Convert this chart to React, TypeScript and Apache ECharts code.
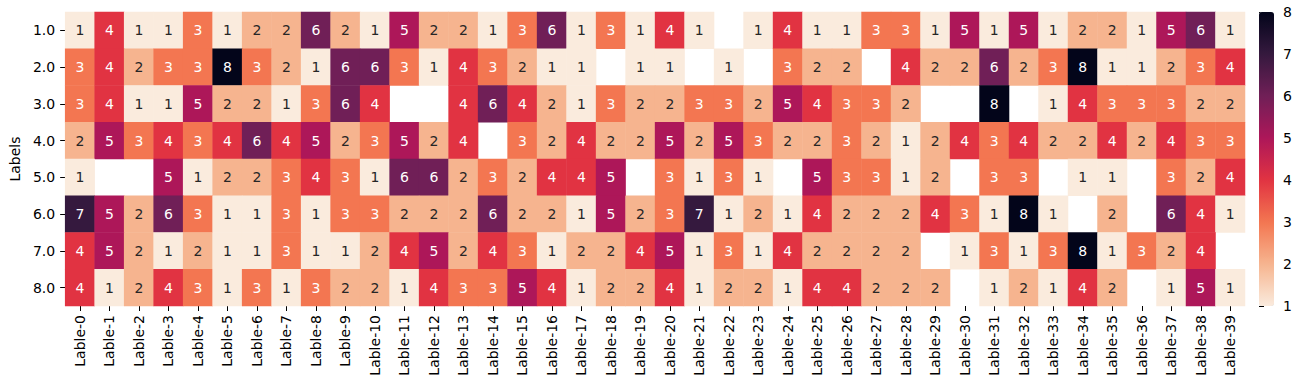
import React, { useEffect, useRef } from "react";
import * as echarts from "echarts";

const rowLabels = ["1.0", "2.0", "3.0", "4.0", "5.0", "6.0", "7.0", "8.0"];
const colLabels = [
  "Lable-0", "Lable-1", "Lable-2", "Lable-3", "Lable-4", "Lable-5", "Lable-6", "Lable-7", "Lable-8", "Lable-9",
  "Lable-10", "Lable-11", "Lable-12", "Lable-13", "Lable-14", "Lable-15", "Lable-16", "Lable-17", "Lable-18", "Lable-19",
  "Lable-20", "Lable-21", "Lable-22", "Lable-23", "Lable-24", "Lable-25", "Lable-26", "Lable-27", "Lable-28", "Lable-29",
  "Lable-30", "Lable-31", "Lable-32", "Lable-33", "Lable-34", "Lable-35", "Lable-36", "Lable-37", "Lable-38", "Lable-39",
];

const _ = null;
const row1 = [1, 4, 1, 1, 3, 1, 2, 2, 6, 2, 1, 5, 2, 2, 1, 3, 6, 1, 3, 1, 4, 1, _, 1, 4, 1, 1, 3, 3, 1, 5, 1, 5, 1, 2, 2, 1, 5, 6, 1];
const row2 = [3, 4, 2, 3, 3, 8, 3, 2, 1, 6, 6, 3, 1, 4, 3, 2, 1, 1, _, 1, 1, _, 1, _, 3, 2, 2, _, 4, 2, 2, 6, 2, 3, 8, 1, 1, 2, 3, 4];
const row3 = [3, 4, 1, 1, 5, 2, 2, 1, 3, 6, 4, _, _, 4, 6, 4, 2, 1, 3, 2, 2, 3, 3, 2, 5, 4, 3, 3, 2, _, _, 8, _, 1, 4, 3, 3, 3, 2, 2];
const row4 = [2, 5, 3, 4, 3, 4, 6, 4, 5, 2, 3, 5, 2, 4, _, 3, 2, 4, 2, 2, 5, 2, 5, 3, 2, 2, 3, 2, 1, 2, 4, 3, 4, 2, 2, 4, 2, 4, 3, 3];
const row5 = [1, _, _, 5, 1, 2, 2, 3, 4, 3, 1, 6, 6, 2, 3, 2, 4, 4, 5, _, 3, 1, 3, 1, _, 5, 3, 3, 1, 2, _, 3, 3, _, 1, 1, _, 3, 2, 4];
const row6 = [7, 5, 2, 6, 3, 1, 1, 3, 1, 3, 3, 2, 2, 2, 6, 2, 2, 1, 5, 2, 3, 7, 1, 2, 1, 4, 2, 2, 2, 4, 3, 1, 8, 1, _, 2, _, 6, 4, 1];
const row7 = [4, 5, 2, 1, 2, 1, 1, 3, 1, 1, 2, 4, 5, 2, 4, 3, 1, 2, 2, 4, 5, 1, 3, 1, 4, 2, 2, 2, 2, _, 1, 3, 1, 3, 8, 1, 3, 2, 4, _];
const row8 = [4, 1, 2, 4, 3, 1, 3, 1, 3, 2, 2, 1, 4, 3, 3, 5, 4, 1, 2, 2, 4, 1, 2, 2, 1, 4, 4, 2, 2, 2, _, 1, 2, 1, 4, 2, _, 1, 5, 1];
const rows = [row1, row2, row3, row4, row5, row6, row7, row8];

const colorbarTicks = [1, 2, 3, 4, 5, 6, 7, 8];
// rocket_r sampled at values 1..8
const palette = ["#faebdd", "#f6b48f", "#f37651", "#e13342", "#ad1759", "#701f57", "#35193e", "#03051a"];

const FONT = "DejaVu Sans";

export default function App() {
  const ref = useRef<HTMLDivElement>(null);
  useEffect(() => {
    document.body.style.margin = "0";
    const chart = echarts.init(ref.current!, null, { renderer: "svg" });
    const data: any[] = [];
    rows.forEach((r, yi) => {
      r.forEach((v, xi) => {
        if (v === null) return;
        data.push({
          value: [xi, yi, v],
          label: { color: v >= 3 ? "#ffffff" : "#262626" },
        });
      });
    });
    chart.setOption({
      animation: false,
      backgroundColor: "#ffffff",
      textStyle: { fontFamily: FONT },
      grid: [
        { left: 53, top: 12, width: 1192, height: 294 },
        { left: 1259, top: 12, width: 15, height: 294 },
      ],
      xAxis: [
        {
          type: "category",
          gridIndex: 0,
          data: colLabels,
          position: "bottom",
          axisLine: { show: false },
          axisTick: { show: true, alignWithLabel: true, length: 5, lineStyle: { color: "#000", width: 1 } },
          axisLabel: { rotate: 90, interval: 0, margin: 9, fontSize: 14, color: "#000", fontFamily: FONT },
          splitArea: { show: false },
          splitLine: { show: false },
        },
        { type: "value", gridIndex: 1, show: false, min: 0, max: 1 },
      ],
      yAxis: [
        {
          type: "category",
          gridIndex: 0,
          data: rowLabels,
          inverse: true,
          name: "Labels",
          nameLocation: "middle",
          nameRotate: 90,
          nameGap: 39,
          nameTextStyle: { fontSize: 14, color: "#000", fontFamily: FONT },
          axisLine: { show: false },
          axisTick: { show: true, alignWithLabel: true, length: 5, lineStyle: { color: "#000", width: 1 } },
          axisLabel: { margin: 10, fontSize: 14, color: "#000", fontFamily: FONT },
          splitArea: { show: false },
          splitLine: { show: false },
        },
        {
          type: "value",
          gridIndex: 1,
          min: colorbarTicks[0],
          max: colorbarTicks[colorbarTicks.length - 1],
          interval: 1,
          position: "right",
          axisLine: { show: false },
          axisTick: { show: true, length: 5, lineStyle: { color: "#000", width: 1 } },
          axisLabel: { margin: 9, fontSize: 14, color: "#000", fontFamily: FONT },
          splitLine: { show: false },
        },
      ],
      visualMap: {
        type: "continuous",
        seriesIndex: 0,
        min: 1,
        max: 8,
        calculable: false,
        hoverLink: false,
        orient: "vertical",
        left: 1259,
        top: 12,
        padding: 0,
        itemWidth: 15,
        itemHeight: 294,
        text: null,
        showLabel: false,
        inRange: { color: palette },
      },
      series: [
        {
          type: "heatmap",
          xAxisIndex: 0,
          yAxisIndex: 0,
          data,
          label: {
            show: true,
            fontSize: 14,
            fontFamily: FONT,
            formatter: (p: any) => String(p.value[2]),
          },
          itemStyle: { borderWidth: 0 },
          emphasis: { disabled: true },
        },
        { type: "line", xAxisIndex: 1, yAxisIndex: 1, data: [], silent: true },
      ],
    });
    return () => chart.dispose();
  }, []);
  return <div ref={ref} style={{ width: 1311, height: 383 }} />;
}
